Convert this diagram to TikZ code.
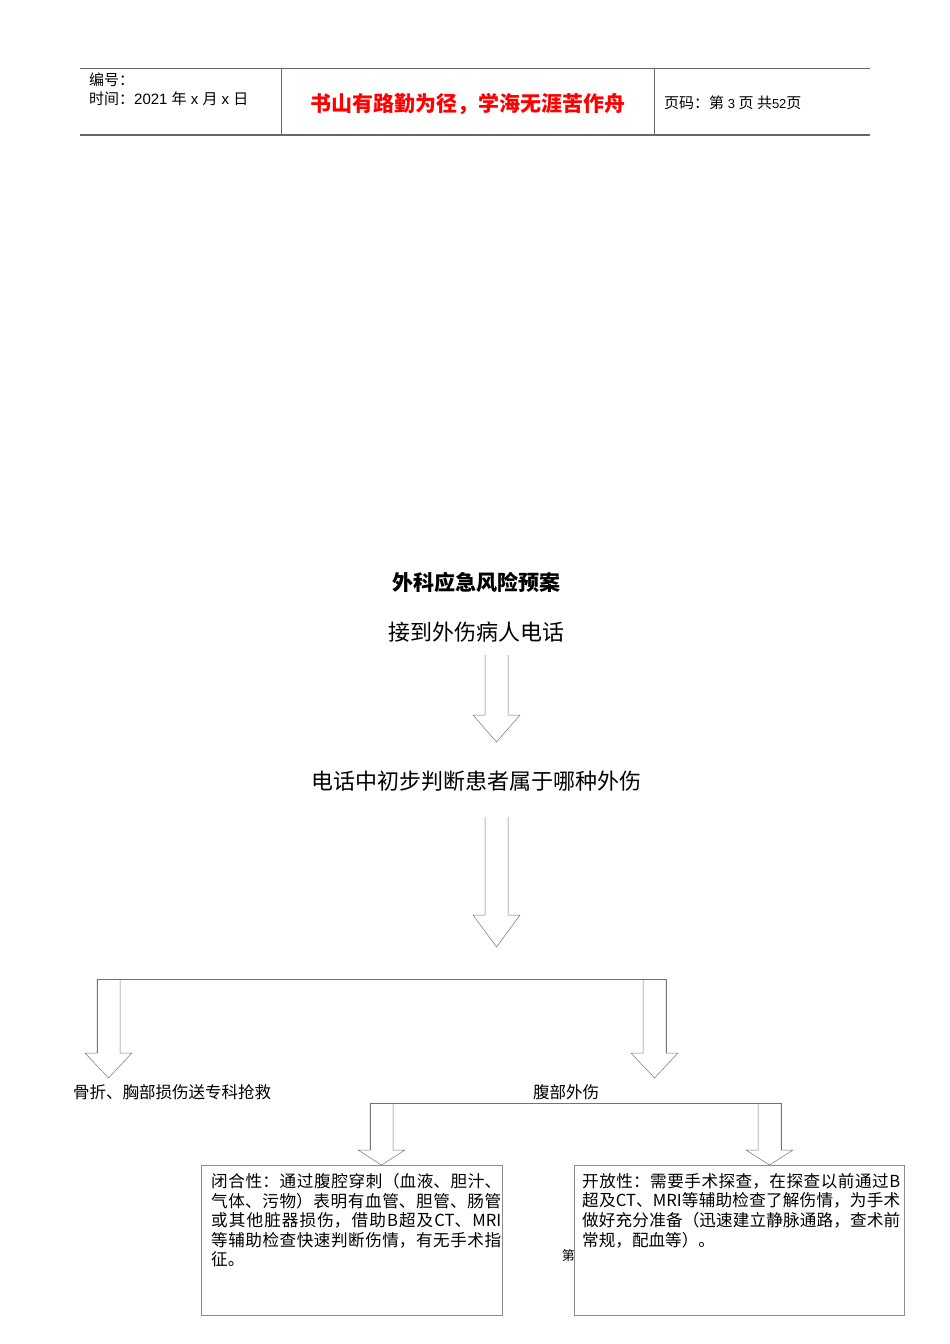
\documentclass[tikz,border=0pt]{standalone}
\usepackage{fontspec}
\setmainfont{Liberation Serif}
\newfontfamily\cjk{Noto Sans CJK SC}
\newfontfamily\hdr{Liberation Sans}
\XeTeXlinebreaklocale "zh"
\XeTeXlinebreakskip=0pt plus 1pt
\newcommand\myarrow[4]{% x, ytop, yhead, ytip
  \draw[arr] (#1-11.5,-#2) -- (#1-11.5,-#3) -- (#1-23.5,-#3) -- (#1,-#4) -- (#1+23.5,-#3) -- (#1+11.5,-#3) -- (#1+11.5,-#2);}
\begin{document}
\begin{tikzpicture}[x=1pt,y=1pt,
  arr/.style={draw=black!55,line width=0.5pt},
  grey/.style={draw=black!60,line width=0.6pt},
  box/.style={draw=black!45,line width=0.5pt},
  boxtxt/.style={anchor=north west,text width=290pt,align=justify,inner sep=0pt,font=\cjk\fontsize{16.6}{19.6}\selectfont}]
\useasboundingbox (0,0) rectangle (950,-1344);
% header
\draw[grey,line width=1pt] (80,-68) -- (870,-68);
\draw[grey,line width=1.5pt] (80,-135) -- (870,-135);
\draw[grey] (281,-68) -- (281,-135);
\draw[grey] (654,-68) -- (654,-135);
\node[anchor=west,inner sep=0pt,font=\cjk\fontsize{15}{17}\selectfont] (h1) at (89,-80) {编号：};
\node[anchor=west,inner sep=0pt,font=\cjk\fontsize{15}{17}\selectfont] (h2) at (89,-99) {时间：{\hdr 2021 }年{\hdr\ x }月{\hdr\ x }日};
\node[inner sep=0pt,font=\cjk\bfseries\fontsize{21}{23}\selectfont,text=red] (h3) at (468,-104) {书山有路勤为径，学海无涯苦作舟};
\node[anchor=west,inner sep=0pt,font=\cjk\fontsize{15}{17}\selectfont] (h4) at (664,-103) {页码：第{\hdr\fontsize{13}{15}\selectfont\ 3 }页\ 共{\hdr\fontsize{13}{15}\selectfont 52}页};
% titles
\node[font=\cjk\bfseries\fontsize{21}{23}\selectfont] (t) at (476,-582) {外科应急风险预案};
\node[font=\cjk\fontsize{22}{24}\selectfont] (a) at (476,-632) {接到外伤病人电话};
\node[font=\cjk\fontsize{22}{24}\selectfont] (b) at (476,-781) {电话中初步判断患者属于哪种外伤};
\myarrow{496.5}{655}{715}{742}
\myarrow{496.5}{817}{915}{947}
% branch 1
\draw[arr] (97,-1053) -- (97,-979) -- (666,-979) -- (666,-1053);
\myarrow{108.5}{979}{1053}{1078}
\myarrow{654.5}{979}{1053}{1078}
\node[anchor=west,inner sep=0pt,font=\cjk\fontsize{16.5}{18}\selectfont] (c) at (73,-1092) {骨折、胸部损伤送专科抢救};
\node[inner sep=0pt,font=\cjk\fontsize{16.5}{18}\selectfont] (d) at (566,-1092) {腹部外伤};
% branch 2
\draw[arr] (370,-1150) -- (370,-1103) -- (781,-1103) -- (781,-1150);
\myarrow{381.5}{1103}{1150}{1165}
\myarrow{769.5}{1103}{1150}{1165}
\draw[box] (201,-1165) rectangle (502,-1315);
\draw[box] (574,-1165) rectangle (904,-1315);
\node[boxtxt] (e) at (211,-1173) {闭合性：通过腹腔穿刺（血液、胆汁、气体、污物）表明有血管、胆管、肠管或其他脏器损伤，借助B超及CT、MRI等辅助检查快速判断伤情，有无手术指征。};
\node[boxtxt,text width=318pt] (f) at (582,-1173) {开放性：需要手术探查，在探查以前通过B超及CT、MRI等辅助检查了解伤情，为手术做好充分准备（迅速建立静脉通路，查术前常规，配血等）。};
\node[anchor=east,inner sep=0pt,font=\cjk\fontsize{13}{15}\selectfont] (g) at (575,-1256) {第};
\end{tikzpicture}
\end{document}
